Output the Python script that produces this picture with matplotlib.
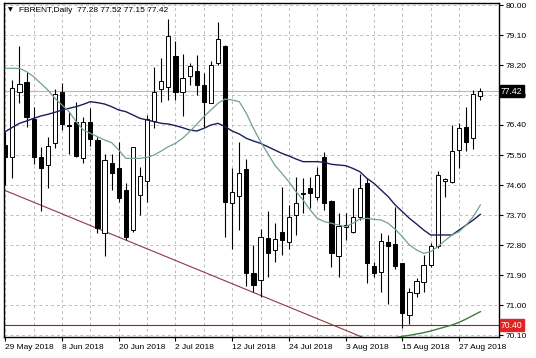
import matplotlib
matplotlib.use("Agg")
import matplotlib.pyplot as plt

plt.rcParams['font.family'] = ['Liberation Sans', 'DejaVu Sans']

# daily bars, 29 May 2018 .. 30 Aug 2018
opens = [75.80, 75.43, 77.38, 77.70, 76.58, 75.43, 75.20, 75.87, 77.40, 76.40,
         76.50, 75.40, 76.48, 75.95, 73.15, 75.25, 75.10, 74.45, 73.25, 74.30,
         74.73, 76.53, 77.47, 77.53, 78.47, 77.40, 77.87, 78.03, 77.60, 77.07,
         78.25, 78.78, 74.07, 74.27, 75.07, 71.95, 71.75, 73.00, 72.65, 73.20,
         72.90, 73.70, 74.33, 74.52, 74.25, 75.45, 74.13, 72.47, 73.35, 73.20,
         73.65, 74.65, 72.18, 72.00, 72.90, 72.83, 72.25, 70.70, 71.35, 71.70,
         72.20, 72.77, 74.73, 74.70, 75.65, 76.33, 76.00, 77.28]
highs = [76.20, 77.75, 78.77, 78.00, 76.95, 75.75, 76.05, 77.47, 77.65, 76.80,
         77.10, 76.65, 76.90, 76.05, 75.53, 75.53, 75.90, 74.67, 75.75, 75.15,
         76.70, 78.15, 78.40, 79.57, 78.93, 78.53, 78.27, 78.50, 77.95, 78.32,
         79.50, 78.80, 75.10, 75.90, 75.37, 72.80, 73.27, 73.83, 73.45, 74.53,
         74.00, 74.85, 74.80, 74.85, 75.15, 75.60, 74.15, 73.75, 73.75, 74.50,
         74.93, 74.80, 72.30, 73.15, 73.10, 73.93, 72.25, 71.50, 71.80, 72.50,
         72.85, 75.02, 74.80, 76.40, 76.45, 76.95, 77.45, 77.52]
lows = [74.60, 74.80, 77.05, 76.35, 75.23, 73.83, 74.50, 75.70, 76.25, 75.53,
        75.45, 75.25, 75.77, 73.15, 72.47, 74.45, 74.08, 72.95, 73.20, 73.70,
        74.10, 76.30, 77.10, 77.15, 77.15, 76.67, 77.60, 77.30, 76.35, 77.05,
        78.20, 73.05, 72.67, 73.25, 71.57, 71.40, 71.25, 71.83, 72.30, 72.50,
        72.67, 73.10, 73.77, 73.90, 74.15, 73.85, 72.15, 71.85, 72.95, 73.15,
        73.55, 71.67, 71.85, 71.40, 71.03, 72.07, 70.30, 70.43, 71.23, 71.40,
        72.15, 72.70, 74.23, 74.65, 75.10, 75.63, 75.67, 77.15]
closes = [75.43, 77.50, 77.62, 76.63, 75.43, 75.10, 75.78, 77.32, 76.43, 76.36,
          75.47, 76.48, 75.97, 73.30, 75.35, 74.97, 74.20, 73.05, 75.73, 74.87,
          76.57, 77.38, 77.72, 79.07, 77.40, 77.80, 78.17, 77.60, 77.10, 78.20,
          78.97, 74.10, 74.40, 74.97, 71.95, 71.60, 73.03, 72.57, 72.97, 72.95,
          73.65, 74.05, 74.37, 74.35, 74.90, 74.07, 72.55, 73.37, 73.40, 73.63,
          74.50, 72.25, 71.97, 72.93, 72.78, 72.18, 70.75, 71.38, 71.72, 72.20,
          72.77, 74.90, 74.78, 75.63, 76.30, 75.90, 77.33, 77.42]

# moving averages
ma_slow = [76.20, 76.33, 76.45, 76.52, 76.60, 76.67, 76.72, 76.78, 76.85, 76.90,
           76.95, 77.02, 77.10, 77.07, 77.03, 76.95, 76.85, 76.80, 76.70, 76.60,
           76.55, 76.50, 76.45, 76.43, 76.38, 76.32, 76.25, 76.22, 76.30, 76.40,
           76.45, 76.35, 76.22, 76.13, 76.00, 75.92, 75.85, 75.75, 75.65, 75.55,
           75.47, 75.38, 75.30, 75.30, 75.30, 75.28, 75.22, 75.20, 75.18, 75.10,
           75.00, 74.80, 74.65, 74.45, 74.25, 74.00, 73.80, 73.60, 73.43, 73.25,
           73.10, 73.10, 73.10, 73.10, 73.25, 73.40, 73.55, 73.72]
ma_fast = [78.10, 78.10, 78.10, 78.00, 77.85, 77.65, 77.45, 77.20, 77.00, 76.80,
           76.50, 76.25, 76.15, 76.05, 75.95, 75.87, 75.65, 75.40, 75.40, 75.40,
           75.43, 75.50, 75.62, 75.75, 75.85, 76.00, 76.20, 76.42, 76.65, 76.85,
           77.05, 77.18, 77.15, 77.10, 76.75, 76.30, 75.90, 75.55, 75.20, 74.95,
           74.70, 74.40, 74.15, 73.85, 73.60, 73.50, 73.45, 73.40, 73.35, 73.45,
           73.58, 73.60, 73.57, 73.55, 73.45, 73.27, 73.05, 72.80, 72.65, 72.55,
           72.60, 72.75, 72.93, 73.10, 73.20, 73.40, 73.65, 74.00]
# green curve near the bottom (bars 54..67)
low_curve_x = list(range(54, 68))
low_curve = [69.99, 70.02, 70.06, 70.09, 70.13, 70.17, 70.22, 70.28, 70.34,
             70.40, 70.48, 70.58, 70.69, 70.80]

# trendline anchors and levels
trend_x = [-0.2, 50.3]
trend_y = [74.45, 70.04]
support_level = 70.40
last_price = 77.42

date_pos = [0, 8, 16, 24, 32, 40, 48, 56, 64]
date_labels = ['29 May 2018', '8 Jun 2018', '20 Jun 2018', '2 Jul 2018', '12 Jul 2018',
               '24 Jul 2018', '3 Aug 2018', '15 Aug 2018', '27 Aug 2018']
price_ticks = [80.00, 79.10, 78.20, 77.30, 76.40, 75.50, 74.60, 73.70, 72.80,
               71.90, 71.00, 70.10]

fig = plt.figure(figsize=(5.36, 3.58), dpi=100)
ax = fig.add_axes([4 / 536, 1 - 337 / 358, 495 / 536, 334 / 358])

n = len(opens)
xs = list(range(n))

# candles
for i in xs:
    o, h, l, c = opens[i], highs[i], lows[i], closes[i]
    ax.vlines(i, l, h, color='black', lw=0.8, zorder=3)
    bottom = min(o, c)
    height = max(abs(c - o), 0.015)
    face = 'white' if c >= o else 'black'
    ax.bar(i, height, bottom=bottom, width=0.6, color=face, edgecolor='black',
           linewidth=0.7, zorder=4)

ax.plot(xs, ma_slow, color='#1c1c5c', lw=1.0, zorder=5)
ax.plot(xs, ma_fast, color='#74a092', lw=0.9, zorder=5)
ax.plot(low_curve_x, low_curve, color='#3f7a3f', lw=1.0, zorder=5)
ax.plot(trend_x, trend_y, color='#8e3a44', lw=0.8, zorder=2)
ax.axhline(support_level, color='#b01c1c', lw=0.8, zorder=2)
ax.axhline(last_price, color='#b8b8b8', lw=0.8, zorder=1)

ax.set_xlim(-0.18, 69.63)
ax.set_ylim(70.04, 80.06)

# grid
ax.set_xticks(date_pos)
ax.set_xticklabels(date_labels, ha='left')
ax.set_xticks(range(4, 68, 8), minor=True)
ax.set_yticks(price_ticks)
ax.set_yticklabels(['%.2f' % v for v in price_ticks])
ax.yaxis.tick_right()
ax.grid(True, which='both', color='#bdbdbd', ls=(0, (3, 3)), lw=0.7, zorder=0)
ax.tick_params(axis='x', which='major', length=3, pad=2, labelsize=6, direction='out')
ax.tick_params(axis='x', which='minor', length=0)
ax.tick_params(axis='y', length=3, pad=1.5, labelsize=6, direction='out')
for s in ax.spines.values():
    s.set_linewidth(1.0)
    s.set_color('black')

# price labels on the right axis
ax.text(1.004, last_price, '%.2f' % last_price, transform=ax.get_yaxis_transform(),
        ha='left', va='center', fontsize=6.2, color='white', clip_on=False, zorder=10,
        bbox=dict(boxstyle='square,pad=0.15', fc='black', ec='black'))
ax.text(1.004, support_level, '%.2f' % support_level, transform=ax.get_yaxis_transform(),
        ha='left', va='center', fontsize=6.2, color='white', clip_on=False, zorder=10,
        bbox=dict(boxstyle='square,pad=0.15', fc='#e02424', ec='#e02424'))

# header
ax.text(0.008, 0.979, '\u25bc', transform=ax.transAxes, fontsize=4.5, va='center',
        family='DejaVu Sans')
ax.text(0.03, 0.979, 'FBRENT,Daily  %.2f %.2f %.2f %.2f' % (opens[-1], highs[-1], lows[-1], closes[-1]),
        transform=ax.transAxes, fontsize=6, va='center')

plt.savefig('out.png', dpi=100)
